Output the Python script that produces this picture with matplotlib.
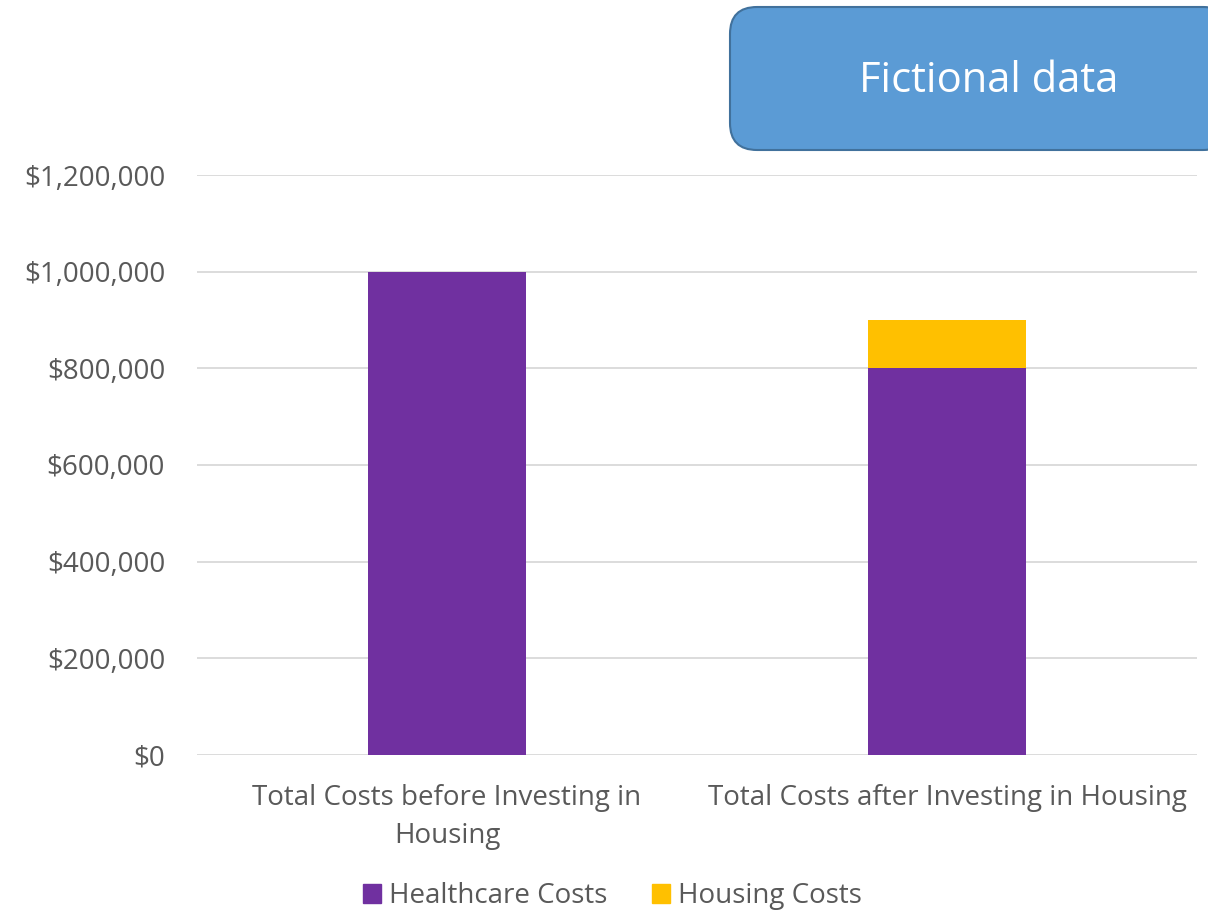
import matplotlib.pyplot as plt
from matplotlib.patches import FancyBboxPatch, Patch
from matplotlib.ticker import FuncFormatter
import numpy as np

plt.rcParams['font.family'] = ['Open Sans', 'DejaVu Sans']

categories = ["Total Costs before Investing in\nHousing",
              "Total Costs after Investing in Housing"]
healthcare = [1000000, 800000]
housing = [0, 100000]

purple = "#7030A0"
gold = "#FFC000"
txt = "#595959"

fig = plt.figure(figsize=(12.08, 9.14), dpi=100)
ax = fig.add_axes([0.1631, 0.174, 0.8278, 0.6345])

x = np.arange(len(categories))
ax.bar(x, healthcare, width=0.316, color=purple, zorder=3)
ax.bar(x, housing, width=0.316, bottom=healthcare, color=gold, zorder=3)

ax.set_xlim(-0.5, 1.5)
ax.set_ylim(0, 1200000)
ax.set_yticks(np.arange(0, 1200001, 200000))
ax.yaxis.set_major_formatter(FuncFormatter(lambda v, p: f"${v:,.0f}"))
ax.set_xticks(x)
ax.set_xticklabels(categories, linespacing=1.48)
ax.grid(axis='y', color="#D9D9D9", linewidth=1.3, zorder=0)
for s in ax.spines.values():
    s.set_visible(False)
ax.tick_params(axis='both', length=0, labelsize=20, colors=txt)
ax.tick_params(axis='y', pad=23)
ax.tick_params(axis='x', pad=21)

# "Fictional data" box
box = FancyBboxPatch((7.30, 7.64), 5.0, 1.43, boxstyle="round,pad=0,rounding_size=0.27",
                     transform=fig.dpi_scale_trans, facecolor="#5B9BD5",
                     edgecolor="#41719C", linewidth=1.5)
fig.patches.append(box)
fig.text(9.89 / 12.08, 1 - 81 / 914, "Fictional data", color="white", fontsize=30,
         ha='center', va='center')

handles = [Patch(color=purple, label="Healthcare Costs"),
           Patch(color=gold, label="Housing Costs")]
leg = fig.legend(handles=handles, loc='center', bbox_to_anchor=(0.507, 1 - 896 / 914),
                 ncol=2, frameon=False, fontsize=20, handlelength=0.65, handleheight=0.65,
                 handletextpad=0.3, columnspacing=1.6, labelcolor=txt, borderpad=0)

fig.savefig("out.png", dpi=100)
